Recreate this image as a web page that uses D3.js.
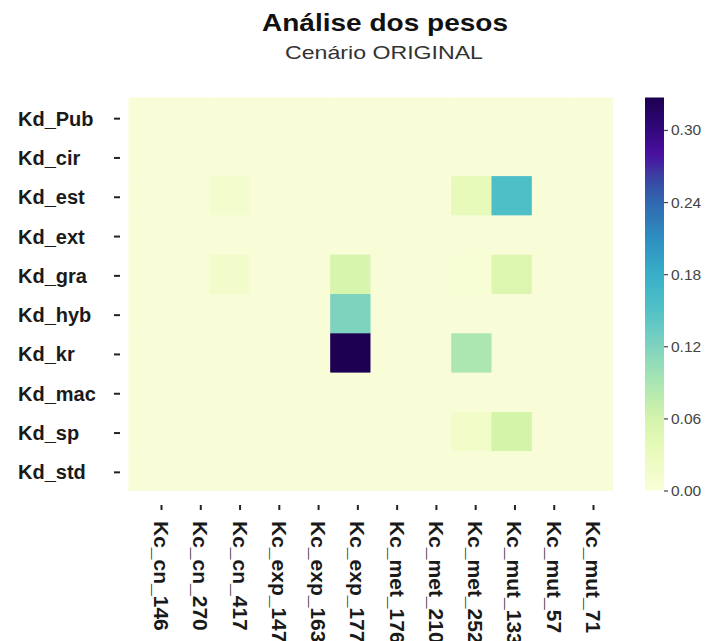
<!DOCTYPE html>
<html>
<head>
<meta charset="utf-8">
<script src="https://cdn.jsdelivr.net/npm/d3@7"></script>
<style>
  html, body { margin: 0; padding: 0; background: #ffffff; }
  svg { display: block; font-family: "Liberation Sans", Arial, sans-serif; }
</style>
</head>
<body>
<svg id="chart" width="721" height="641"></svg>
<script>
// Row (Kd_*) and column (Kc_*) parameters of the weight matrix
const rows = ["Kd_Pub", "Kd_cir", "Kd_est", "Kd_ext", "Kd_gra", "Kd_hyb", "Kd_kr", "Kd_mac", "Kd_sp", "Kd_std"];
const cols = ["Kc_cn_146", "Kc_cn_270", "Kc_cn_417", "Kc_exp_147", "Kc_exp_163", "Kc_exp_177",
              "Kc_met_176", "Kc_met_210", "Kc_met_252", "Kc_mut_133", "Kc_mut_57", "Kc_mut_71"];

// Weights, one array per row, in column order
const w_Pub = [0, 0, 0, 0, 0, 0, 0, 0, 0, 0, 0, 0];
const w_cir = [0, 0, 0, 0, 0, 0, 0, 0, 0, 0, 0, 0];
const w_est = [0, 0, 0.012, 0, 0, 0, 0, 0, 0.035, 0.155, 0, 0];
const w_ext = [0, 0, 0, 0, 0, 0, 0, 0, 0, 0, 0, 0];
const w_gra = [0, 0, 0.014, 0, 0, 0.055, 0, 0, 0.003, 0.05, 0, 0];
const w_hyb = [0, 0, 0, 0, 0, 0.12, 0, 0, 0, 0, 0, 0];
const w_kr  = [0, 0, 0, 0, 0, 0.327, 0, 0, 0.088, 0, 0, 0];
const w_mac = [0, 0, 0, 0, 0, 0, 0, 0, 0, 0, 0, 0];
const w_sp  = [0, 0, 0, 0, 0, 0, 0, 0, 0.017, 0.06, 0, 0];
const w_std = [0, 0, 0, 0, 0, 0, 0, 0, 0, 0, 0, 0];
const weights = [w_Pub, w_cir, w_est, w_ext, w_gra, w_hyb, w_kr, w_mac, w_sp, w_std];

// Colour bar ticks
const cbarTicks = [0.00, 0.06, 0.12, 0.18, 0.24, 0.30];

const title = "Análise dos pesos";
const subtitle = "Cenário ORIGINAL";

const svg = d3.select("#chart");

// Layout
const hm = { left: 128.5, right: 612.5, top: 97.5, bottom: 490.5 };
const cb = { left: 645, right: 664 };

const cells = [];
weights.forEach((r, i) => r.forEach((v, j) => cells.push({ row: rows[i], col: cols[j], v })));
const vmax = d3.max(cells, d => d.v);

const x = d3.scaleBand().domain(cols).range([hm.left, hm.right]).padding(0);
const y = d3.scaleBand().domain(rows).range([hm.top, hm.bottom]).padding(0);

// Sequential yellow -> green -> blue -> violet ramp
const rampStops = [
  [0.00, "#f8fdd8"], [0.03, "#ebfbbd"], [0.06, "#d4f4aa"], [0.09, "#a9e6b2"],
  [0.12, "#7ed3bf"], [0.15, "#52c1c7"], [0.18, "#38afc8"], [0.21, "#2e8ec0"],
  [0.24, "#3068b0"], [0.26, "#3b44a3"], [0.28, "#4a0ea0"], [0.30, "#33087c"],
  [0.327, "#1c0052"]
];
const color = d3.scaleLinear()
  .domain(rampStops.map(d => d[0] / 0.327 * vmax))
  .range(rampStops.map(d => d[1]))
  .interpolate(d3.interpolateRgb)
  .clamp(true);

// Heatmap cells
svg.append("g")
  .selectAll("rect")
  .data(cells)
  .join("rect")
  .attr("x", d => x(d.col))
  .attr("y", d => y(d.row))
  .attr("width", x.bandwidth() + 0.5)
  .attr("height", y.bandwidth() + 0.5)
  .attr("fill", d => color(d.v));

// Y axis (row names)
const yAxis = svg.append("g");
rows.forEach(r => {
  const cy = y(r) + y.bandwidth() / 2 + 1.5;
  yAxis.append("line")
    .attr("x1", 114).attr("x2", 120).attr("y1", cy).attr("y2", cy)
    .attr("stroke", "#222").attr("stroke-width", 2);
  yAxis.append("text")
    .attr("x", 18).attr("y", cy)
    .attr("dominant-baseline", "central")
    .attr("font-size", 20).attr("font-weight", "bold")
    .attr("fill", "#1a1a1a")
    .text(r);
});

// X axis (column names), labels read downward
const xTick = d3.scalePoint().domain(cols).range([161.5, 593.5]);
const xAxis = svg.append("g");
cols.forEach(c => {
  const cx = xTick(c);
  xAxis.append("line")
    .attr("x1", cx).attr("x2", cx).attr("y1", 505).attr("y2", 510)
    .attr("stroke", "#222").attr("stroke-width", 2);
  xAxis.append("text")
    .attr("transform", `translate(${cx},521) rotate(90)`)
    .attr("dominant-baseline", "central")
    .attr("font-size", 21).attr("font-weight", "bold")
    .attr("fill", "#1a1a1a")
    .text(c);
});

// Colour bar
const defs = svg.append("defs");
const grad = defs.append("linearGradient")
  .attr("id", "cbar").attr("x1", 0).attr("y1", 1).attr("x2", 0).attr("y2", 0);
d3.range(0, 1.0001, 0.02).forEach(t => {
  grad.append("stop").attr("offset", t).attr("stop-color", color(t * vmax));
});
svg.append("rect")
  .attr("x", cb.left).attr("y", hm.top)
  .attr("width", cb.right - cb.left).attr("height", hm.bottom - hm.top)
  .attr("fill", "url(#cbar)");

const cScale = d3.scaleLinear().domain([0, vmax]).range([hm.bottom, hm.top]);
const cAxis = svg.append("g")
  .attr("transform", `translate(${cb.right},0)`)
  .call(d3.axisRight(cScale).tickValues(cbarTicks).tickFormat(d3.format(".2f")).tickSize(4).tickPadding(3));
cAxis.select(".domain").remove();
cAxis.selectAll("line").attr("stroke", "#444").attr("stroke-width", 1.2);
cAxis.selectAll("text")
  .attr("font-size", 15.5)
  .attr("font-family", "'Liberation Sans', Arial, sans-serif")
  .attr("fill", "#444");

// Titles
svg.append("text")
  .attr("x", 385).attr("y", 31)
  .attr("text-anchor", "middle")
  .attr("font-size", 24).attr("font-weight", "bold")
  .attr("fill", "#111")
  .attr("textLength", 246).attr("lengthAdjust", "spacingAndGlyphs")
  .text(title);
svg.append("text")
  .attr("x", 384).attr("y", 58.5)
  .attr("text-anchor", "middle")
  .attr("font-size", 18.5)
  .attr("fill", "#333")
  .attr("textLength", 198).attr("lengthAdjust", "spacingAndGlyphs")
  .text(subtitle);
</script>
</body>
</html>
